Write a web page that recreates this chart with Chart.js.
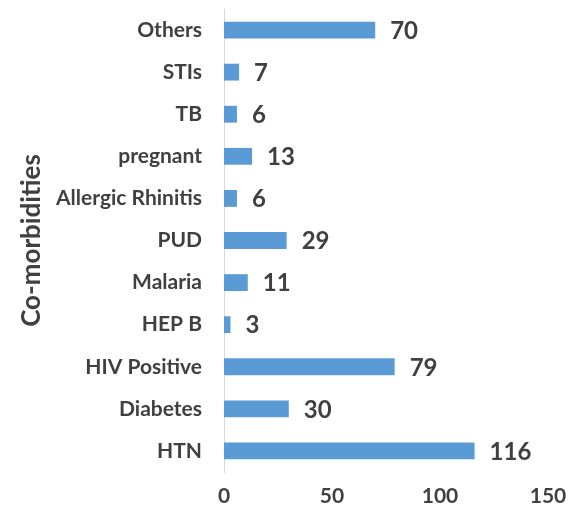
<!DOCTYPE html>
<html lang="en">
<head>
  <meta charset="UTF-8" />
  <title>Co-morbidities</title>
  <script src="https://cdn.jsdelivr.net/npm/chart.js"></script>
  <style>
    html, body { margin: 0; padding: 0; background: #fff; }
    #wrap { width: 569px; height: 514px; position: relative; }
  </style>
</head>
<body>
  <div id="wrap"><canvas id="comorbChart"></canvas></div>

  <script>
    // data (top to bottom)
    const categories = ["Others", "STIs", "TB", "pregnant", "Allergic Rhinitis", "PUD",
                        "Malaria", "HEP B", "HIV Positive", "Diabetes", "HTN"];
    const counts = [70, 7, 6, 13, 6, 29, 11, 3, 79, 30, 116];
    const xTicks = [0, 50, 100, 150];

    const textColor = "#404040";
    const fontFamily = "Lato, 'Open Sans', sans-serif";

    // value labels at the end of each bar
    const barValueLabels = {
      id: "barValueLabels",
      afterDatasetsDraw(chart) {
        const ctx = chart.ctx;
        const meta = chart.getDatasetMeta(0);
        ctx.save();
        ctx.font = "bold 24px " + fontFamily;
        ctx.fillStyle = textColor;
        ctx.textAlign = "left";
        ctx.textBaseline = "middle";
        meta.data.forEach((bar, i) => {
          ctx.fillText(String(counts[i]), bar.x + 15, bar.y + 1);
        });
        ctx.restore();
      }
    };

    new Chart(document.getElementById("comorbChart").getContext("2d"), {
      type: "bar",
      data: {
        labels: categories,
        datasets: [{
          label: "Co-morbidities",
          data: counts,
          backgroundColor: "#5B9BD5",
          categoryPercentage: 1,
          barPercentage: 0.4
        }]
      },
      options: {
        indexAxis: "y",
        responsive: true,
        maintainAspectRatio: false,
        animation: false,
        layout: { padding: { top: 9, right: 21, bottom: 3, left: 0 } },
        plugins: {
          legend: { display: false },
          tooltip: { enabled: false }
        },
        scales: {
          x: {
            min: xTicks[0],
            max: xTicks[xTicks.length - 1],
            afterBuildTicks: (scale) => { scale.ticks = xTicks.map(v => ({ value: v })); },
            afterFit: (scale) => {
              scale.height = 39;
              scale.paddingLeft = 0;
              scale.paddingRight = 0;
            },
            grid: { display: false, drawTicks: false },
            border: { display: false },
            ticks: {
              padding: 12,
              color: textColor,
              font: { family: fontFamily, size: 21, weight: "bold" }
            }
          },
          y: {
            afterFit: (scale) => {
              scale.width = 224;
              scale.paddingTop = 0;
              scale.paddingBottom = 0;
            },
            grid: { display: false, drawTicks: false },
            border: { display: true, color: "#d9d9d9", width: 1 },
            ticks: {
              padding: 22,
              color: textColor,
              font: { family: fontFamily, size: 21, weight: "bold" }
            },
            title: {
              display: true,
              text: "Co-morbidities",
              color: textColor,
              padding: { top: 16, bottom: 0 },
              font: { family: fontFamily, size: 26, weight: "bold" }
            }
          }
        }
      },
      plugins: [barValueLabels]
    });
  </script>
</body>
</html>
